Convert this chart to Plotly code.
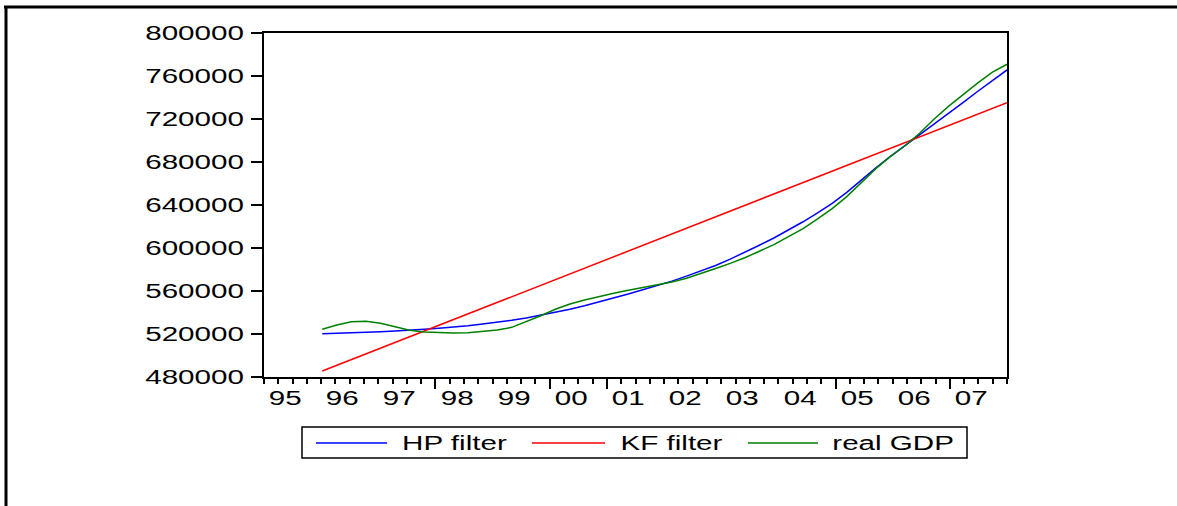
import plotly.graph_objects as go

# ---------------- data ----------------
quarters = [f"{y}Q{q}" for y in range(1996, 2008) for q in range(1, 5)]

hp_filter = [
    520300, 520600, 521100, 521600, 522100, 522800, 523400, 524400,
    525300, 526200, 527700, 529300, 530900, 532700, 534900, 537400,
    540200, 543000, 546300, 549800, 553200, 557200, 561200, 565100,
    569200, 573800, 578500, 583700, 589600, 595800, 602600, 609300,
    616800, 624400, 632700, 641600, 651700, 663300, 674500, 685200,
    695100, 705100, 715100, 725300, 735500, 745800, 755800, 765600,
]

kf_filter = [
    485600, 490900, 496200, 501500, 506800, 512100, 517500, 522800,
    528100, 533400, 538700, 544000, 549300, 554600, 559900, 565200,
    570600, 575900, 581200, 586500, 591800, 597100, 602400, 607700,
    613000, 618300, 623600, 629000, 634300, 639600, 644900, 650200,
    655500, 660800, 666100, 671400, 676700, 682100, 687400, 692700,
    698000, 703300, 708600, 713900, 719200, 724500, 729800, 735200,
]

real_gdp = [
    524400, 528400, 531400, 531800, 529900, 526500, 523400, 521900,
    521200, 520900, 521200, 522100, 523700, 526200, 531400, 537000,
    543000, 547900, 551600, 554900, 557900, 560700, 563300, 565800,
    568300, 571800, 576100, 580900, 585700, 590900, 597000, 603100,
    610600, 618100, 627000, 636600, 647800, 660900, 673800, 685200,
    695100, 706700, 720000, 732000, 742900, 753600, 763600, 770900,
]

series_names = ["HP filter", "KF filter", "real GDP"]
series_colors = ["#0000FF", "#FF0000", "#008000"]

year_labels = ["95", "96", "97", "98", "99", "00", "01", "02", "03", "04", "05", "06", "07"]
first_axis_year = 1995
y_tick_vals = [480000, 520000, 560000, 600000, 640000, 680000, 720000, 760000, 800000]
y_tick_text = [str(v) for v in y_tick_vals]

# ---------------- geometry ----------------
W, H = 1177, 506
PL, PR, PT, PB = 264, 1007, 33, 377          # plot area in pixels
n_slots = len(year_labels) * 4               # quarters on the axis
x_max = n_slots - 1                          # observation index range [0, x_max]


def px_x(p):
    return (p - PL) / (PR - PL)


def px_y(p):
    return (PB - p) / (PB - PT)


def q_index(label):
    y, q = label.split("Q")
    return (int(y) - first_axis_year) * 4 + int(q) - 1


x_vals = [q_index(q) for q in quarters]

fig = go.Figure()
series = [hp_filter, kf_filter, real_gdp]
for name, vals, col in zip(series_names, series, series_colors):
    fig.add_trace(go.Scatter(x=x_vals, y=vals, mode="lines", name=name,
                             line=dict(color=col, width=1.5),
                             customdata=quarters,
                             hovertemplate="%{customdata}: %{y}<extra>" + name + "</extra>"))

year_w = x_max / len(year_labels)
major_ticks = [k * year_w for k in range(len(year_labels) + 1)]
minor_ticks = [k * x_max / n_slots for k in range(n_slots + 1)]

FONT = "Liberation Sans, Arial, sans-serif"
FS = 20
annotations = []
for k, lab in enumerate(year_labels):
    annotations.append(dict(x=major_ticks[k] + 1.45, y=px_y(398), xref="x", yref="paper",
                            text=lab, showarrow=False, xanchor="center", yanchor="middle",
                            font=dict(family=FONT, size=FS, color="black")))

shapes = []
# outer frame (top and left rules)
shapes.append(dict(type="line", xref="paper", yref="paper",
                   x0=px_x(4), x1=px_x(W + 5), y0=px_y(7), y1=px_y(7),
                   line=dict(color="black", width=3)))
shapes.append(dict(type="line", xref="paper", yref="paper",
                   x0=px_x(6), x1=px_x(6), y0=px_y(6), y1=px_y(H + 5),
                   line=dict(color="black", width=3)))

# legend box
leg_y = px_y(443)
shapes.append(dict(type="rect", xref="paper", yref="paper",
                   x0=px_x(302), x1=px_x(967), y0=px_y(458), y1=px_y(427),
                   line=dict(color="black", width=1.5), fillcolor="white"))
# (sample line start, sample line end, text centre) in pixels
leg_items = [(316, 387, 454), (532, 605, 671), (748, 818, 893)]
for (l0, l1, tx), name, col in zip(leg_items, series_names, series_colors):
    shapes.append(dict(type="line", xref="paper", yref="paper",
                       x0=px_x(l0), x1=px_x(l1), y0=leg_y, y1=leg_y,
                       line=dict(color=col, width=1.5)))
    annotations.append(dict(x=px_x(tx), y=leg_y, xref="paper", yref="paper",
                            text=name, showarrow=False, xanchor="center", yanchor="middle",
                            font=dict(family=FONT, size=FS, color="black")))

fig.update_layout(
    width=W, height=H, autosize=False,
    margin=dict(l=PL, r=W - PR, t=PT, b=H - PB, pad=0),
    paper_bgcolor="white", plot_bgcolor="white",
    showlegend=False,
    font=dict(family=FONT, size=FS, color="black"),
    xaxis=dict(range=[0, x_max], showgrid=False, zeroline=False,
               showline=True, linecolor="black", linewidth=2, mirror=True,
               tickmode="array", tickvals=major_ticks, ticktext=[""] * len(major_ticks),
               ticks="outside", ticklen=10, tickwidth=2, tickcolor="black",
               minor=dict(tickmode="array", tickvals=minor_ticks, ticks="outside",
                          ticklen=5, tickwidth=1.5, tickcolor="black", showgrid=False)),
    yaxis=dict(range=[y_tick_vals[0], y_tick_vals[-1]], showgrid=False, zeroline=False,
               showline=True, linecolor="black", linewidth=2, mirror=True,
               tickmode="array", tickvals=y_tick_vals, ticktext=y_tick_text,
               ticks="outside", ticklen=11, tickwidth=1.5, tickcolor="black",
               ticklabelstandoff=3,
               tickfont=dict(family=FONT, size=FS, color="black")),
    shapes=shapes,
    annotations=annotations,
)

# page: no body margin; the source chart uses horizontally widened lettering
post = """
document.body.style.margin = '0';
document.body.style.overflow = 'hidden';
var gd = document.getElementById('{plot_id}');
gd.querySelectorAll('.main-svg text').forEach(function (t) {
  if (!t.textContent) return;
  var L = t.getComputedTextLength();
  if (L > 0) {
    t.setAttribute('textLength', (L * 1.48).toFixed(1));
    t.setAttribute('lengthAdjust', 'spacingAndGlyphs');
  }
});
"""

fig.write_html("out.html", post_script=post, config={"displayModeBar": False})
